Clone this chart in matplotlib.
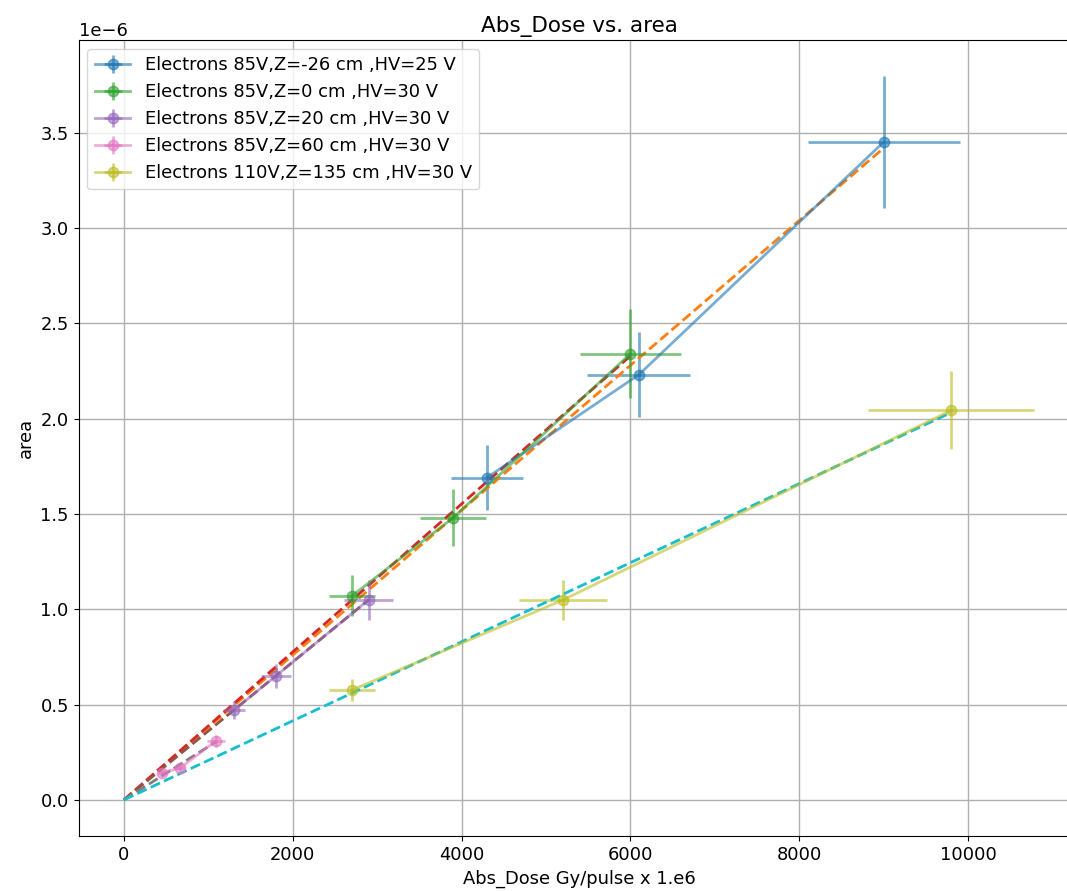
import numpy as np
import matplotlib
matplotlib.use("Agg")
import matplotlib.pyplot as plt

# Absolute dose (Gy/pulse x 1e6) and measured area for each configuration
labels = [
    "Electrons 85V,Z=-26 cm ,HV=25 V",
    "Electrons 85V,Z=0 cm ,HV=30 V",
    "Electrons 85V,Z=20 cm ,HV=30 V",
    "Electrons 85V,Z=60 cm ,HV=30 V",
    "Electrons 110V,Z=135 cm ,HV=30 V",
]
dose_m26 = [4300, 6100, 9000]
area_m26 = [1.69e-6, 2.23e-6, 3.45e-6]
dose_z0 = [2700, 3900, 6000]
area_z0 = [1.07e-6, 1.48e-6, 2.34e-6]
dose_z20 = [1300, 1800, 2900]
area_z20 = [0.47e-6, 0.65e-6, 1.05e-6]
dose_z60 = [450, 660, 1090]
area_z60 = [0.143e-6, 0.166e-6, 0.309e-6]
dose_z135 = [2700, 5200, 9800]
area_z135 = [0.576e-6, 1.048e-6, 2.043e-6]
rel_err = 0.10

doses = [dose_m26, dose_z0, dose_z20, dose_z60, dose_z135]
areas = [area_m26, area_z0, area_z20, area_z60, area_z135]

plt.rcParams["font.size"] = 12.9
plt.rcParams["lines.linewidth"] = 2.0

fig = plt.figure(figsize=(10.67, 8.91), dpi=100)
ax = fig.add_axes([0.0736, 0.0617, 0.938, 0.8933])

for x, y, lab in zip(doses, areas, labels):
    x = np.asarray(x, dtype=float)
    y = np.asarray(y, dtype=float)
    ax.errorbar(x, y, xerr=rel_err * x, yerr=rel_err * y, fmt="o-",
                markersize=7.5, alpha=0.6, label=lab)
    # linear fit through the origin
    slope = np.sum(x * y) / np.sum(x * x)
    xf = np.linspace(0, x.max(), 50)
    ax.plot(xf, slope * xf, "--", linewidth=2.0)

ax.set_title("Abs_Dose vs. area", fontsize=15.5)
ax.set_xlabel("Abs_Dose Gy/pulse x 1.e6", fontsize=12.9)
ax.set_ylabel("area", fontsize=12.9)
ax.tick_params(labelsize=12.9)
ax.yaxis.get_offset_text().set_fontsize(12.9)
ax.grid(True, linewidth=1.0)
handles, labs = ax.get_legend_handles_labels()
ax.legend(handles, labs, loc="upper left", fontsize=12.9)

fig.savefig("out.png", dpi=100)
